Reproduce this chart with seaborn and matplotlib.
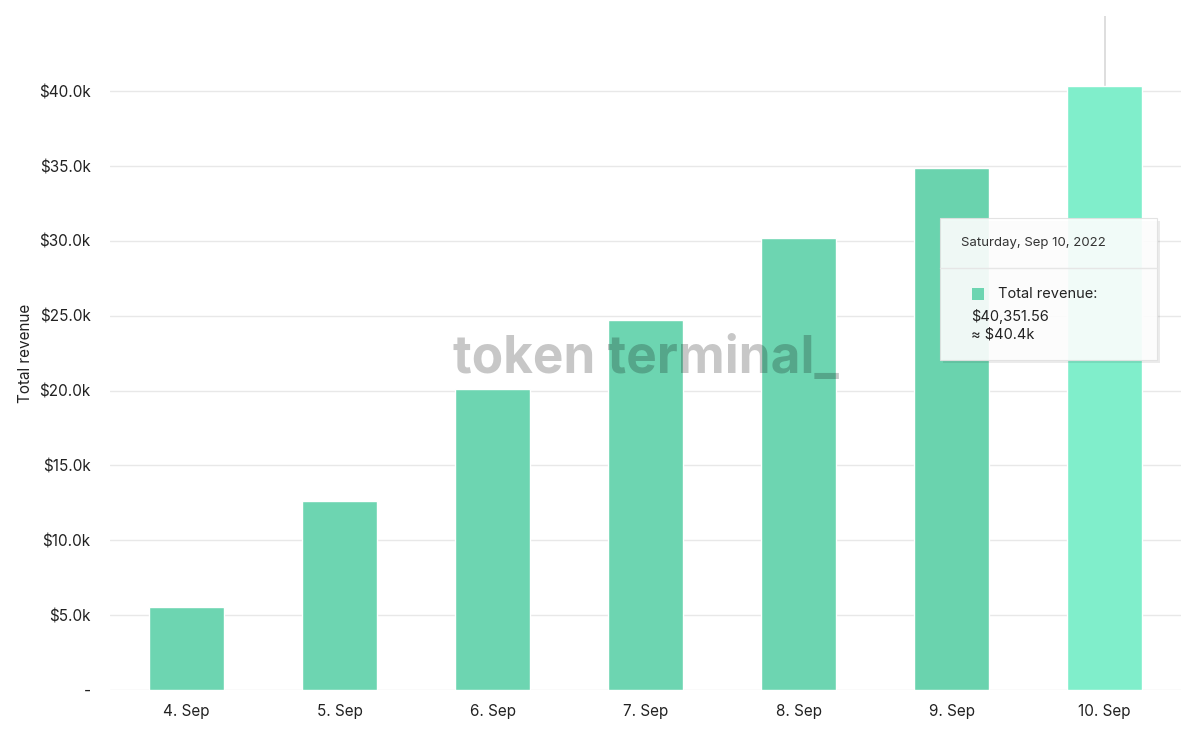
import matplotlib
matplotlib.use("Agg")
import matplotlib.pyplot as plt
import seaborn as sns
import pandas as pd
from matplotlib.patches import Rectangle

# data
dates = ["4. Sep", "5. Sep", "6. Sep", "7. Sep", "8. Sep", "9. Sep", "10. Sep"]
revenue = [5540, 12600, 20100, 24700, 30200, 34850, 40351.56]
bar_colors = ["#6dd5b1", "#6dd5b1", "#6dd5b1", "#6dd5b1", "#6dd5b1", "#6ad3ae", "#80eecb"]
y_ticks = [0, 5000, 10000, 15000, 20000, 25000, 30000, 35000, 40000]
y_tick_labels = ["-", "$5.0k", "$10.0k", "$15.0k", "$20.0k", "$25.0k", "$30.0k", "$35.0k", "$40.0k"]

df = pd.DataFrame({"date": dates, "revenue": revenue})

sns.set_style("white")
plt.rcParams["font.family"] = ["Inter", "DejaVu Sans"]

fig = plt.figure(figsize=(12, 7.41), dpi=100)
ax = fig.add_axes([0.0917, 0.0688, 0.8925, 0.9092])

sns.barplot(data=df, x="date", y="revenue", hue="date", palette=bar_colors,
            width=0.49, legend=False, ax=ax, saturation=1, zorder=2)

ax.set_xlim(-0.5, len(dates) - 0.5)
ax.set_ylim(0, 45000)
ax.set_yticks(y_ticks)
ax.set_yticklabels(y_tick_labels, fontsize=11, color="#222222")
ax.grid(axis="y", color="#e8e8e8", linewidth=1, zorder=0)
ax.set_axisbelow(True)
for s in ax.spines.values():
    s.set_visible(False)
ax.tick_params(axis="y", length=0, pad=14)
ax.tick_params(axis="x", length=8, color="#ccd6eb", labelsize=11, labelcolor="#222222", pad=2)
ax.set_xlabel("")
ax.set_ylabel("Total revenue", fontsize=11, color="#222222")
ax.yaxis.set_label_coords(-0.072, 0.5)

# hover crosshair on last bar
last = len(dates) - 1
ax.axvline(last, ymin=revenue[last] / 45000, ymax=1, color="#d8d8d8", linewidth=1.2, zorder=1)

# watermark (dark, translucent -> looks like multiply over the bars)
fig.text(0.538, 0.515, "token terminal_", fontsize=37, fontweight="bold", color="black",
         alpha=0.22, ha="center", va="center", zorder=5)

# tooltip
W, H = 1200, 741
tx0, ty0, tx1, ty1 = 940, 218, 1157, 360
fig.patches.append(Rectangle(((tx0 + 3) / W, 1 - (ty1 + 3) / H), (tx1 - tx0) / W, (ty1 - ty0) / H,
                             transform=fig.transFigure, facecolor="#000000", alpha=0.08,
                             edgecolor="none", zorder=6))
fig.patches.append(Rectangle((tx0 / W, 1 - ty1 / H), (tx1 - tx0) / W, (ty1 - ty0) / H,
                             transform=fig.transFigure, facecolor="white", alpha=0.9,
                             edgecolor="#e0e0e0", linewidth=0.8, zorder=7))
fig.add_artist(plt.Line2D([tx0 / W, tx1 / W], [1 - 268 / H, 1 - 268 / H],
                          transform=fig.transFigure, color="#e6e6e6", linewidth=1, zorder=8))
fig.text(961 / W, 1 - 243 / H, "Saturday, Sep 10, 2022", fontsize=9.5, color="#333333",
         va="center", ha="left", zorder=9)
fig.patches.append(Rectangle((972 / W, 1 - 300 / H), 12 / W, 12 / H, transform=fig.transFigure,
                             facecolor="#6dd5b1", edgecolor="none", zorder=9))
fig.text(998 / W, 1 - 294 / H, "Total revenue:", fontsize=10.5, color="#222222",
         va="center", ha="left", zorder=9)
fig.text(971 / W, 1 - 317 / H, "${:,.2f}".format(revenue[last]), fontsize=10.5, color="#222222",
         va="center", ha="left", zorder=9)
fig.text(971 / W, 1 - 334 / H, "≈ ${:.1f}k".format(revenue[last] / 1000), fontsize=10.5,
         color="#222222", va="center", ha="left", zorder=9)

fig.savefig("out.png", dpi=100)
